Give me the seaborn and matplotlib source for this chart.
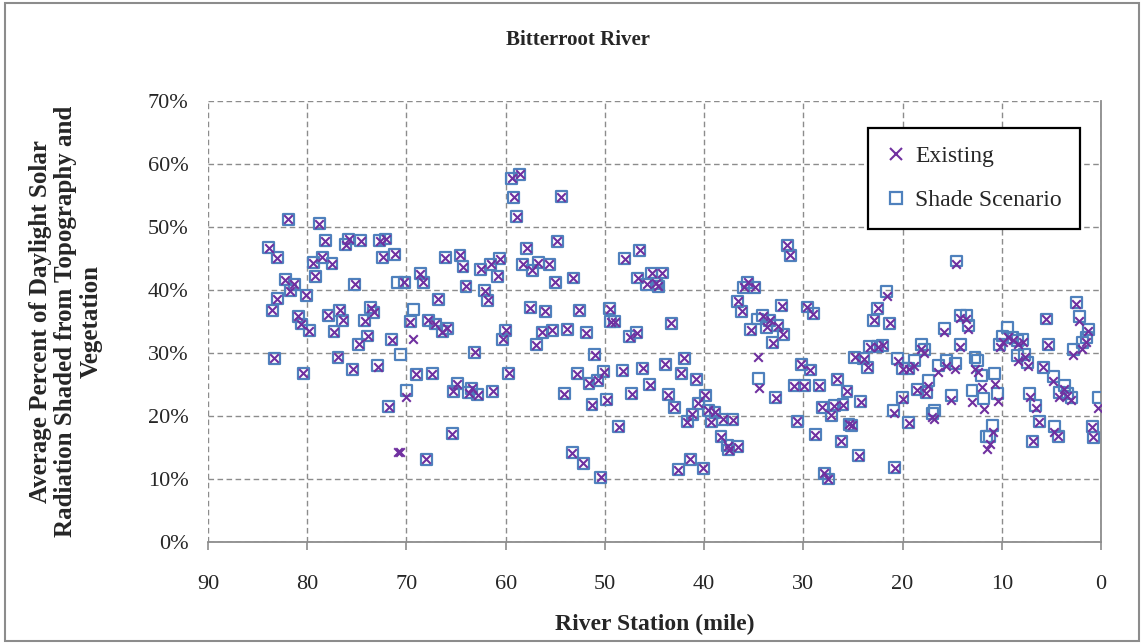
import matplotlib
matplotlib.use("Agg")
import matplotlib.pyplot as plt
from matplotlib.lines import Line2D
from matplotlib.patches import Rectangle
from matplotlib.ticker import FuncFormatter, MultipleLocator
import seaborn as sns
import pandas as pd

# River station (mile) and average percent of daylight solar radiation shaded
river_mile = [
    83.9, 83.0, 83.0, 83.5, 83.3,
    81.9, 78.8, 78.2, 75.8, 76.1, 74.6, 72.7, 72.1, 79.4, 78.5, 77.5, 72.4, 71.2,
    79.2, 75.2, 82.2, 81.3, 81.7, 80.1, 80.9, 80.6, 79.8, 77.9, 76.7, 76.4, 77.3,
    74.2, 73.6, 73.3, 73.9, 74.8, 71.5, 76.9, 80.4, 75.4, 72.9, 71.8,
    70.9, 70.6, 69.3, 70.0, 70.2,
    59.4, 58.6, 59.2, 58.9, 66.1, 64.6, 64.3, 62.5, 61.5, 60.6, 60.8, 58.3, 68.6,
    68.3, 64.0, 62.1, 61.8, 66.8, 69.6, 67.8, 67.1, 66.4, 65.9, 60.0, 60.3, 63.1,
    69.0, 67.4, 59.7, 64.9, 65.3, 63.4, 63.7, 62.8, 61.3, 65.4, 68.0,
    54.4, 54.8, 57.9, 57.3, 56.7, 55.6, 55.0, 53.2, 48.0, 46.5, 46.7, 57.5, 56.0,
    52.6, 49.5, 49.4, 49.0, 56.3, 55.3, 53.8, 51.9, 56.9, 47.5, 46.8, 51.0, 52.8,
    50.1, 50.7, 51.6, 48.2, 46.2, 54.1, 51.3, 49.8, 47.3, 48.6, 53.3, 52.2, 50.4,
    45.3, 44.2, 45.8, 44.8, 44.6, 43.3, 36.6, 36.2, 35.6, 36.0, 34.9, 35.3, 34.6,
    34.5, 34.1, 43.9, 42.0, 42.3, 45.5, 40.8, 43.6, 43.0, 39.9, 40.6, 41.2, 41.7,
    39.6, 39.3, 38.9, 38.1, 37.1, 38.3, 37.6, 36.6, 37.5, 41.4, 42.6, 40.1,
    31.6, 31.3, 29.6, 29.0, 32.2, 33.4, 33.7, 32.6, 32.0, 33.1, 22.9, 22.5, 23.3,
    22.5, 22.0, 24.8, 23.9, 23.5, 30.2, 29.3, 30.9, 29.9, 28.4, 26.6, 25.6, 26.0,
    24.2, 28.1, 27.2, 26.9, 32.8, 30.6, 25.4, 25.1, 28.8, 26.2, 24.4, 27.9, 27.5,
    14.6, 21.6, 21.3, 14.2, 13.6, 13.4, 15.8, 14.2, 18.1, 17.8, 20.5, 20.0, 18.8,
    19.4, 16.4, 15.6, 14.7, 12.7, 12.4, 12.0, 10.7, 13.0, 11.8, 10.4, 17.4, 18.5,
    17.6, 20.0, 15.1, 20.9, 16.8, 17.0, 19.4, 10.9, 11.5, 11.2, 20.8,
    2.5, 5.5, 2.2, 1.3, 1.5, 1.9, 2.8, 5.3, 9.4, 9.9, 8.9, 7.9, 8.4, 10.2, 8.4,
    7.7, 7.4, 5.8, 4.8, 3.7, 4.2, 3.4, 3.0, 0.3, 7.2, 6.6, 6.2, 4.7, 4.3, 0.9,
    0.8, 6.9,
]

existing_pct = [
    46.7, 45.1, 38.6, 36.8, 29.2,
    51.2, 50.5, 47.8, 48.1, 47.2, 47.8, 47.8, 48.1, 44.3, 45.2, 44.2, 45.2, 45.7,
    42.2, 40.9, 41.6, 40.9, 39.9, 39.2, 35.8, 34.6, 33.5, 36.0, 36.8, 35.2, 33.4,
    35.1, 37.2, 36.5, 32.7, 31.4, 32.1, 29.3, 26.8, 27.4, 27.8, 21.5,
    14.3, 14.3, 32.3, 23.0, 41.2,
    57.7, 58.4, 54.7, 51.6, 45.1, 45.5, 43.7, 43.3, 44.1, 45.0, 42.2, 44.1, 42.6,
    41.2, 40.6, 39.9, 38.4, 38.5, 35.0, 35.2, 34.6, 33.4, 33.9, 33.6, 32.2, 30.1,
    26.6, 26.7, 26.8, 25.1, 23.9, 24.4, 23.7, 23.4, 23.9, 17.2, 13.1,
    54.8, 47.7, 46.6, 43.1, 44.3, 44.1, 41.2, 41.9, 45.0, 46.3, 41.9, 37.2, 36.6,
    36.8, 37.0, 35.0, 35.0, 33.3, 33.6, 33.8, 33.2, 31.3, 32.6, 33.2, 29.7, 26.7,
    27.0, 25.7, 25.2, 27.2, 27.6, 23.5, 21.8, 22.6, 23.5, 18.3, 14.2, 12.5, 10.3,
    42.7, 42.7, 40.9, 41.1, 40.6, 34.7, 38.2, 36.6, 41.2, 40.4, 40.4, 33.7, 29.3,
    24.5, 35.9, 28.2, 29.2, 26.8, 25.0, 25.8, 23.4, 21.4, 23.3, 22.0, 20.3, 19.1,
    20.9, 19.1, 20.6, 19.5, 19.4, 16.7, 15.3, 15.1, 14.6, 13.1, 11.5, 11.7,
    47.1, 45.5, 37.3, 36.2, 37.5, 35.2, 34.1, 34.3, 33.0, 31.6, 35.2, 37.1, 31.0,
    31.0, 31.2, 29.3, 29.1, 27.7, 28.2, 27.3, 24.8, 24.8, 24.8, 25.8, 23.9, 21.8,
    22.3, 21.4, 20.1, 21.6, 22.9, 19.2, 18.7, 18.5, 17.0, 16.0, 13.7, 10.9, 10.0,
    44.1, 39.1, 34.7, 35.6, 35.4, 33.8, 33.4, 31.0, 30.7, 30.0, 28.8, 27.5, 28.0,
    27.5, 27.0, 28.0, 27.5, 27.5, 27.0, 24.6, 25.1, 22.2, 21.1, 22.4, 24.8, 24.2,
    23.7, 22.7, 22.5, 20.4, 19.6, 19.9, 18.9, 17.5, 14.8, 15.6, 11.8,
    37.7, 35.4, 35.1, 33.5, 31.7, 30.7, 29.7, 31.3, 32.5, 31.7, 32.0, 31.8, 31.5,
    31.0, 28.8, 29.3, 28.0, 27.7, 25.6, 24.3, 23.0, 23.2, 22.6, 21.3, 23.0, 21.2,
    19.0, 17.5, 16.8, 18.2, 16.6, 16.0,
]

shade_pct = [
    46.7, 45.1, 38.6, 36.8, 29.2,
    51.2, 50.5, 47.8, 48.1, 47.2, 47.8, 47.8, 48.1, 44.3, 45.2, 44.2, 45.2, 45.7,
    42.2, 40.9, 41.6, 40.9, 39.9, 39.2, 35.8, 34.6, 33.5, 36.0, 36.8, 35.2, 33.4,
    35.1, 37.2, 36.5, 32.7, 31.4, 32.1, 29.3, 26.8, 27.4, 28.0, 21.5,
    41.2, 29.8, 36.9, 24.1, 41.2,
    57.7, 58.4, 54.7, 51.6, 45.1, 45.5, 43.7, 43.3, 44.1, 45.0, 42.2, 44.1, 42.6,
    41.2, 40.6, 39.9, 38.4, 38.5, 35.0, 35.2, 34.6, 33.4, 33.9, 33.6, 32.2, 30.1,
    26.6, 26.7, 26.8, 25.1, 23.9, 24.4, 23.7, 23.4, 23.9, 17.2, 13.1,
    54.8, 47.7, 46.6, 43.1, 44.3, 44.1, 41.2, 41.9, 45.0, 46.3, 41.9, 37.2, 36.6,
    36.8, 37.0, 35.0, 35.0, 33.3, 33.6, 33.8, 33.2, 31.3, 32.6, 33.2, 29.7, 26.7,
    27.0, 25.7, 25.2, 27.2, 27.6, 23.5, 21.8, 22.6, 23.5, 18.3, 14.2, 12.5, 10.3,
    42.7, 42.7, 40.9, 41.1, 40.6, 34.7, 38.2, 36.6, 41.2, 40.4, 40.4, 33.7, 35.4,
    26.0, 35.9, 28.2, 29.2, 26.8, 25.0, 25.8, 23.4, 21.4, 23.3, 22.0, 20.3, 19.1,
    20.9, 19.1, 20.6, 19.5, 19.4, 16.7, 15.3, 15.1, 14.6, 13.1, 11.5, 11.7,
    47.1, 45.5, 37.3, 36.2, 37.5, 35.2, 34.1, 34.3, 33.0, 31.6, 35.2, 37.1, 31.0,
    31.0, 31.2, 29.3, 29.1, 27.7, 28.2, 27.3, 24.8, 24.8, 24.8, 25.8, 23.9, 21.8,
    22.3, 21.4, 20.1, 21.6, 22.9, 19.2, 18.7, 18.5, 17.0, 16.0, 13.7, 10.9, 10.0,
    44.6, 39.7, 34.7, 36.0, 36.0, 34.3, 33.9, 31.3, 31.4, 30.6, 29.2, 27.5, 28.8,
    27.5, 28.0, 28.8, 28.4, 29.3, 28.8, 26.4, 26.7, 24.1, 22.8, 23.5, 25.6, 24.2,
    23.7, 23.0, 23.3, 20.9, 20.9, 20.4, 18.9, 18.5, 16.7, 16.7, 11.8,
    38.0, 35.4, 35.8, 33.7, 32.5, 31.6, 30.5, 31.3, 34.0, 32.7, 32.4, 32.2, 32.0,
    31.4, 29.6, 29.8, 28.5, 27.7, 26.3, 24.8, 23.8, 23.5, 23.0, 23.0, 23.5, 21.7,
    19.2, 18.3, 16.8, 18.4, 16.6, 16.0,
]

series_names = ["Existing", "Shade Scenario"]
x_ticks = [90, 80, 70, 60, 50, 40, 30, 20, 10, 0]

df = pd.DataFrame({
    "mile": river_mile,
    "Existing": [v / 100 for v in existing_pct],
    "Shade Scenario": [v / 100 for v in shade_pct],
})

sns.set_theme(style="white")
plt.rcParams["font.family"] = ["Liberation Serif", "DejaVu Serif"]

PURPLE = "#7030A0"
BLUE = "#4F81BD"
GRID = "#8C8C8C"

fig = plt.figure(figsize=(11.44, 6.44), dpi=100)
ax = fig.add_axes([208 / 1144, 1 - 542 / 644, (1101 - 208) / 1144, (542 - 101) / 644])

# Shade scenario squares underneath, existing crosses on top
sns.scatterplot(data=df, x="mile", y="Shade Scenario", ax=ax, marker="s",
                s=62, facecolor="none", edgecolor=BLUE, linewidth=1.6,
                legend=False, zorder=3)
sns.scatterplot(data=df, x="mile", y="Existing", ax=ax, marker="x",
                s=38, color=PURPLE, linewidth=1.5, legend=False, zorder=4)

ax.set_xlim(90, 0)
ax.set_ylim(0, 0.70)
ax.set_xticks(x_ticks)
ax.yaxis.set_major_locator(MultipleLocator(0.10))
ax.yaxis.set_major_formatter(FuncFormatter(lambda v, p: f"{v * 100:.0f}%"))

ax.grid(True, color=GRID, linestyle=(0, (4, 2.5)), linewidth=1.0)
ax.set_axisbelow(True)
for side in ("left", "top"):
    ax.spines[side].set_visible(False)
for side in ("bottom", "right"):
    ax.spines[side].set_color(GRID)
    ax.spines[side].set_linewidth(1.3)

ax.tick_params(axis="x", direction="out", length=6, width=1.2, color=GRID,
               labelsize=16, pad=18, bottom=True)
ax.tick_params(axis="y", length=0, labelsize=16, pad=14, left=False)

ax.set_xlabel("River Station (mile)", fontsize=17, fontweight="bold", labelpad=14)
ax.set_ylabel("Average Percent of Daylight Solar\nRadiation Shaded from Topography and\nVegetation",
              fontsize=18, fontweight="bold", linespacing=1.12)
ax.yaxis.set_label_coords(-0.118, 0.5)

fig.text(0.505, 0.938, "Bitterroot River", ha="center", va="center",
         fontsize=15, fontweight="bold")

handles = [
    Line2D([], [], linestyle="none", marker="x", color=PURPLE, markersize=8,
           markeredgewidth=1.5),
    Line2D([], [], linestyle="none", marker="s", markerfacecolor="none",
           markeredgecolor=BLUE, markersize=8.5, markeredgewidth=1.6),
]
leg = ax.legend(handles, series_names, loc="upper right",
                bbox_to_anchor=(0.976, 0.939), frameon=True, fancybox=False,
                framealpha=1, edgecolor="black", fontsize=17,
                handlelength=0.9, handletextpad=0.35, labelspacing=0.95,
                borderpad=0.75, borderaxespad=0)
leg.get_frame().set_linewidth(1.6)

# Outer chart border
fig.patches.append(Rectangle((0.004, 0.005), 0.992, 0.99, transform=fig.transFigure,
                             fill=False, edgecolor="#8C8C8C", linewidth=1.5))

fig.savefig("out.png", dpi=100, facecolor="white")
